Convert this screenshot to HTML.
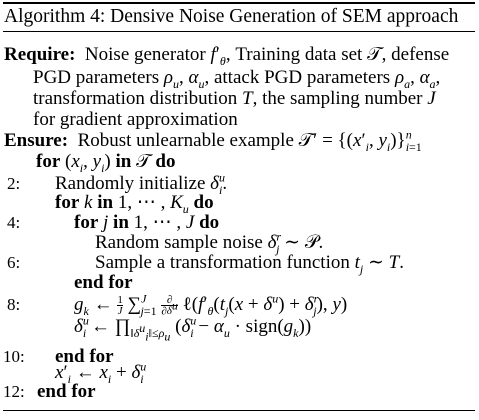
<!DOCTYPE html>
<html><head><meta charset="utf-8"><style>
body{margin:0;background:#fff;width:479px;height:420px;overflow:hidden;position:relative;font-family:"Liberation Serif","DejaVu Serif",serif;color:#000}
.l{position:absolute;white-space:nowrap;font-size:19px;line-height:22px}
.r{position:absolute;left:3px;width:472px;background:#000}
i{font-style:italic}
b{font-weight:bold}
sub,sup{font-size:12px;line-height:0}
.n{position:absolute;font-size:17px;line-height:22px}
.fr{display:inline-block;vertical-align:middle;text-align:center;font-size:11px;line-height:10px}
.fr span{display:block}
.fr span:first-child{border-bottom:1px solid #000}
</style></head><body>
<div class="r" style="top:2px;height:2px"></div>
<div class="l" style="left:4px;top:6px;font-size:19.5px">Algorithm 4: Densive Noise Generation of SEM approach</div>
<div class="r" style="top:31px;height:1px"></div>

<div class="l" style="left:4px;top:44px"><b>Require:</b>&nbsp; Noise generator <i>f</i>′<sub><i>θ</i></sub>, Training data set 𝒯, defense</div>
<div class="l" style="left:33px;top:67px">PGD parameters <i>ρ<sub>u</sub></i>, <i>α<sub>u</sub></i>, attack PGD parameters <i>ρ<sub>a</sub></i>, <i>α<sub>a</sub></i>,</div>
<div class="l" style="left:33px;top:88px">transformation distribution <i>T</i>, the sampling number <i>J</i></div>
<div class="l" style="left:33px;top:109px">for gradient approximation</div>
<div class="l" style="left:4px;top:130px"><b>Ensure:</b>&nbsp; Robust unlearnable example 𝒯′ = {(<i>x</i>′<sub><i>i</i></sub>, <i>y<sub>i</sub></i>)}<sup><i>n</i></sup><sub style="margin-left:-6px"><i>i</i>=1</sub></div>
<div class="l" style="left:36px;top:151px"><b>for</b> (<i>x<sub>i</sub></i>, <i>y<sub>i</sub></i>) <b>in</b> 𝒯 <b>do</b></div>
<div class="n" style="left:7px;top:173px">2:</div>
<div class="l" style="left:55px;top:173px">Randomly initialize <i>δ</i><sup><i>u</i></sup><sub style="margin-left:-6px"><i>i</i></sub>.</div>
<div class="l" style="left:55px;top:192px"><b>for</b> <i>k</i> <b>in</b> 1, ⋯ , <i>K<sub>u</sub></i> <b>do</b></div>
<div class="n" style="left:7px;top:212px">4:</div>
<div class="l" style="left:74px;top:212px"><b>for</b> <i>j</i> <b>in</b> 1, ⋯ , <i>J</i> <b>do</b></div>
<div class="l" style="left:95px;top:232px">Random sample noise <i>δ</i><sup><i>r</i></sup><sub style="margin-left:-5px"><i>j</i></sub> ∼ 𝒫.</div>
<div class="n" style="left:7px;top:252px">6:</div>
<div class="l" style="left:95px;top:252px">Sample a transformation function <i>t<sub>j</sub></i> ∼ <i>T</i>.</div>
<div class="l" style="left:74px;top:272px"><b>end for</b></div>
<div class="n" style="left:7px;top:294px">8:</div>
<div class="l" style="left:74px;top:294px"><i>g<sub>k</sub></i> ← <span class="fr"><span>1</span><span><i>J</i></span></span> ∑<sup><i>J</i></sup><sub style="margin-left:-6px"><i>j</i>=1</sub> <span class="fr"><span>∂</span><span>∂<i>δ<sup>u</sup></i></span></span> ℓ(<i>f</i>′<sub><i>θ</i></sub>(<i>t<sub>j</sub></i>(<i>x</i> + <i>δ<sup>u</sup></i>) + <i>δ</i><sup><i>r</i></sup><sub style="margin-left:-5px"><i>j</i></sub>), <i>y</i>)</div>
<div class="l" style="left:74px;top:316px"><i>δ</i><sup><i>u</i></sup><sub style="margin-left:-6px"><i>i</i></sub> ← ∏<sub>‖<i>δ<sup>u</sup><sub>i</sub></i>‖≤<i>ρ<sub>u</sub></i></sub> (<i>δ</i><sup><i>u</i></sup><sub style="margin-left:-6px"><i>i</i></sub> − <i>α<sub>u</sub></i> · sign(<i>g<sub>k</sub></i>))</div>
<div class="n" style="left:3px;top:346px">10:</div>
<div class="l" style="left:55px;top:346px"><b>end for</b></div>
<div class="l" style="left:55px;top:362px"><i>x</i>′<sub><i>i</i></sub> ← <i>x<sub>i</sub></i> + <i>δ</i><sup><i>u</i></sup><sub style="margin-left:-6px"><i>i</i></sub></div>
<div class="n" style="left:3px;top:381px">12:</div>
<div class="l" style="left:37px;top:381px"><b>end for</b></div>
<div class="r" style="top:410px;height:1px"></div>
</body></html>
